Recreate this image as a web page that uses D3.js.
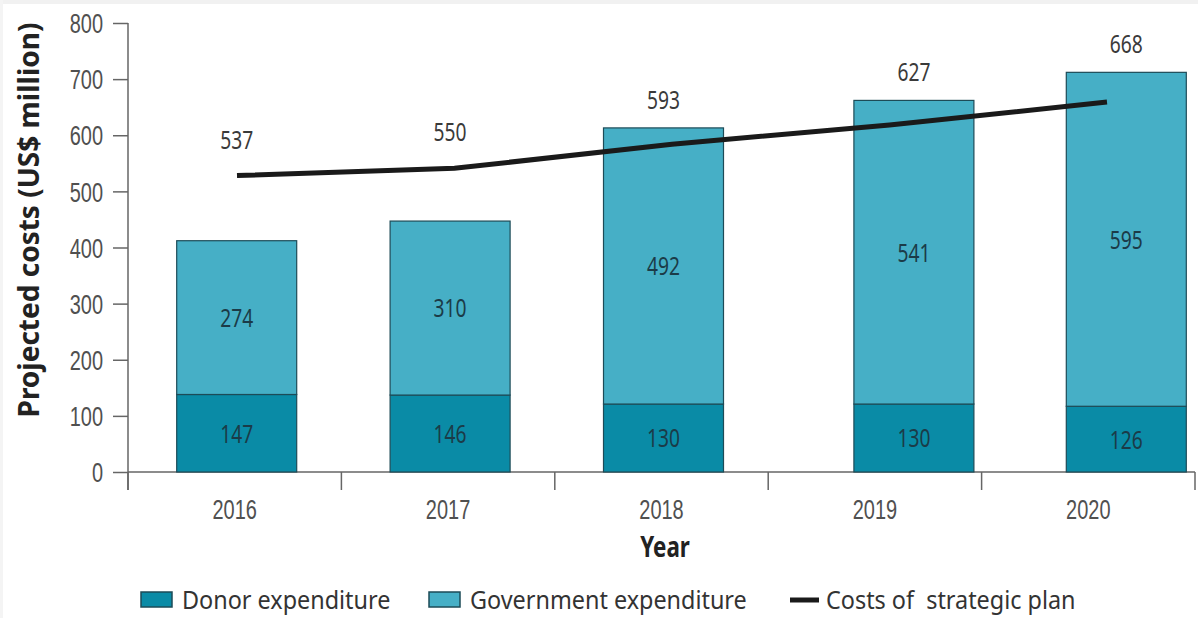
<!DOCTYPE html>
<html>
<head>
<meta charset="utf-8">
<script src="https://cdn.jsdelivr.net/npm/d3@7"></script>
<style>
  html, body { margin: 0; padding: 0; background: #fff; }
  svg { display: block; font-family: 'Noto Sans', 'Open Sans', sans-serif; }
</style>
</head>
<body>
<div id="chart"></div>
<script>
// chart data
var years = ['2016', '2017', '2018', '2019', '2020'];
var donorSpend = [147, 146, 130, 130, 126];
var governmentSpend = [274, 310, 492, 541, 595];
var planCosts = [537, 550, 593, 627, 668];
var yTicks = [0, 100, 200, 300, 400, 500, 600, 700, 800];

var width = 1198, height = 618;
var narrow = 0.74; // horizontal squeeze to mimic the condensed font

var svg = d3.select('#chart').append('svg')
    .attr('width', width)
    .attr('height', height);

// turn x/y into a transform so the glyphs can be squeezed horizontally
function squeeze(sel, s) {
    sel.each(function() {
        var t = d3.select(this);
        var x = +t.attr('x') || 0, y = +t.attr('y') || 0;
        t.attr('x', 0).attr('y', 0)
            .attr('transform', 'translate(' + x + ',' + y + ') scale(' + s + ',1)');
    });
}

// faint frame at the top / left like the scan
svg.append('rect').attr('x', 0).attr('y', 0).attr('width', width).attr('height', 4).attr('fill', '#f1f1f1');
svg.append('rect').attr('x', 0).attr('y', 0).attr('width', 3).attr('height', height).attr('fill', '#f4f4f4');

var axisLeftX = 128, axisRightX = 1195, baseY = 472;

// axis scale and the (slightly lower) scale the marks were drawn with
var yAxisScale = d3.scaleLinear().domain([0, 800]).range([baseY, 23]);
var yScale = d3.scaleLinear().domain([0, 800]).range([baseY + 5, 28]);

var xScale = d3.scaleBand().domain(years).range([axisLeftX, axisRightX]);
var barWidth = 120;
// bars in the last two years sit right of their band centre
var barNudge = {2016: 2, 2017: 2, 2018: 2, 2019: 39, 2020: 38};
function barCenter(y) { return xScale(y) + xScale.bandwidth() / 2 + barNudge[y]; }

var lineX = d3.scalePoint().domain(years).range([237, 1107]);

var rows = years.map(function(y, i) {
    return {year: y, donor: donorSpend[i], gov: governmentSpend[i], plan: planCosts[i]};
});

// y axis
var yAxis = d3.axisLeft(yAxisScale)
    .tickValues(yTicks)
    .tickSize(15)
    .tickPadding(10);
var gy = svg.append('g')
    .attr('transform', 'translate(' + axisLeftX + ',0)')
    .call(yAxis);
gy.select('.domain').remove();
gy.append('line')
    .attr('x1', 0).attr('x2', 0)
    .attr('y1', yAxisScale(800)).attr('y2', baseY + 18)
    .attr('stroke', '#666').attr('stroke-width', 1.5);
gy.selectAll('.tick line').attr('stroke', '#666').attr('stroke-width', 1.5);
gy.selectAll('.tick text')
    .attr('fill', '#505050')
    .attr('dy', '0.36em')
    .style('font-size', '27px')
    .style('font-family', null)
    .call(squeeze, narrow);

// x axis
svg.append('line')
    .attr('x1', axisLeftX).attr('x2', axisRightX)
    .attr('y1', baseY).attr('y2', baseY)
    .attr('stroke', '#666').attr('stroke-width', 1.5);
var boundaries = years.map(function(y) { return xScale(y); }).concat([axisRightX]);
svg.append('g').selectAll('line')
    .data(boundaries)
    .join('line')
    .attr('x1', function(d) { return d; })
    .attr('x2', function(d) { return d; })
    .attr('y1', baseY).attr('y2', baseY + 18)
    .attr('stroke', '#666').attr('stroke-width', 1.5);

var xAxis = d3.axisBottom(xScale).tickSize(0).tickPadding(28);
var gx = svg.append('g')
    .attr('transform', 'translate(0,' + baseY + ')')
    .call(xAxis);
gx.select('.domain').remove();
gx.selectAll('.tick text')
    .attr('fill', '#505050')
    .style('font-size', '27px')
    .style('font-family', null)
    .call(squeeze, narrow);

// stacked bars
var bars = svg.append('g');
bars.selectAll('rect.donor')
    .data(rows)
    .join('rect')
    .attr('class', 'donor')
    .attr('x', function(d) { return barCenter(d.year) - barWidth / 2; })
    .attr('width', barWidth)
    .attr('y', function(d) { return yScale(d.donor); })
    .attr('height', function(d) { return baseY - yScale(d.donor); })
    .attr('fill', '#0a8ba6')
    .attr('stroke', '#1d4b57')
    .attr('stroke-width', 1.2);

bars.selectAll('rect.gov')
    .data(rows)
    .join('rect')
    .attr('class', 'gov')
    .attr('x', function(d) { return barCenter(d.year) - barWidth / 2; })
    .attr('width', barWidth)
    .attr('y', function(d) { return yScale(d.donor + d.gov); })
    .attr('height', function(d) { return yScale(d.donor) - yScale(d.donor + d.gov); })
    .attr('fill', '#46afc6')
    .attr('stroke', '#1d4b57')
    .attr('stroke-width', 1.2);

// labels inside the bars
bars.selectAll('text.donorLbl')
    .data(rows)
    .join('text')
    .attr('class', 'donorLbl')
    .attr('x', function(d) { return barCenter(d.year); })
    .attr('y', function(d) { return (baseY + yScale(d.donor)) / 2; })
    .attr('dy', '0.36em')
    .attr('text-anchor', 'middle')
    .attr('fill', '#1b3b48')
    .style('font-size', '26px')
    .text(function(d) { return d.donor; })
    .call(squeeze, narrow);

bars.selectAll('text.govLbl')
    .data(rows)
    .join('text')
    .attr('class', 'govLbl')
    .attr('x', function(d) { return barCenter(d.year); })
    .attr('y', function(d) { return (yScale(d.donor) + yScale(d.donor + d.gov)) / 2; })
    .attr('dy', '0.36em')
    .attr('text-anchor', 'middle')
    .attr('fill', '#1b3b48')
    .style('font-size', '26px')
    .text(function(d) { return d.gov; })
    .call(squeeze, narrow);

// strategic plan line
var line = d3.line()
    .x(function(d) { return lineX(d.year); })
    .y(function(d) { return yScale(d.plan); });
svg.append('path')
    .attr('d', line(rows))
    .attr('fill', 'none')
    .attr('stroke', '#1a1a1a')
    .attr('stroke-width', 5);

// plan cost labels above bar / line
svg.append('g').selectAll('text')
    .data(rows)
    .join('text')
    .attr('x', function(d) { return barCenter(d.year); })
    .attr('y', function(d) {
        var barTop = yScale(d.donor + d.gov) - 19;
        var lineTop = yScale(d.plan) - 27;
        return Math.min(barTop, lineTop);
    })
    .attr('text-anchor', 'middle')
    .attr('fill', '#3a3a3a')
    .style('font-size', '26px')
    .text(function(d) { return d.plan; })
    .call(squeeze, narrow);

// axis titles
svg.append('text')
    .attr('x', 665).attr('y', 557)
    .attr('text-anchor', 'middle')
    .attr('fill', '#222')
    .style('font-size', '28px')
    .style('font-weight', 'bold')
    .text('Year')
    .call(squeeze, 0.8);

svg.append('text')
    .attr('transform', 'translate(39,220) rotate(-90)')
    .attr('text-anchor', 'middle')
    .attr('fill', '#222')
    .style('font-size', '28px')
    .style('font-weight', 'bold')
    .text('Projected costs (US$ million)');

// legend
var legend = svg.append('g').attr('transform', 'translate(0,600)');
var legendItems = [
    {label: 'Donor expenditure', x: 141, kind: 'box', fill: '#0a8ba6'},
    {label: 'Government expenditure', x: 429, kind: 'box', fill: '#46afc6'},
    {label: 'Costs of  strategic plan', x: 790, kind: 'line'}
];
legendItems.forEach(function(it) {
    if (it.kind === 'box') {
        legend.append('rect')
            .attr('x', it.x).attr('y', -8)
            .attr('width', 31).attr('height', 15)
            .attr('fill', it.fill)
            .attr('stroke', '#1d4b57').attr('stroke-width', 1.5);
    } else {
        legend.append('line')
            .attr('x1', it.x).attr('x2', it.x + 29)
            .attr('y1', 0).attr('y2', 0)
            .attr('stroke', '#1a1a1a').attr('stroke-width', 5);
    }
    legend.append('text')
        .attr('x', it.x + (it.kind === 'box' ? 41 : 36))
        .attr('y', 0)
        .attr('dy', '0.36em')
        .attr('fill', '#333')
        .style('font-size', '26px')
        .style('white-space', 'pre')
        .text(it.label)
        .call(squeeze, 0.9);
});
</script>
</body>
</html>
